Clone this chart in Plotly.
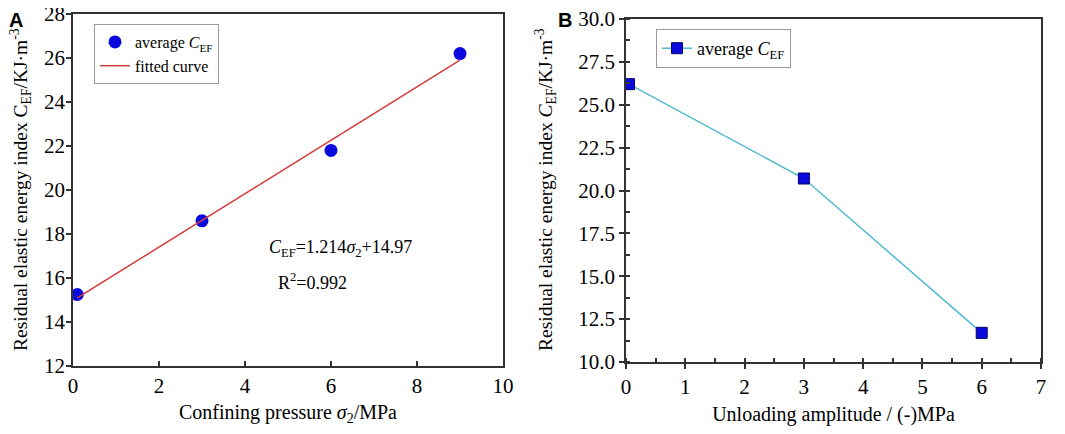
import plotly.graph_objects as go

# panel A: residual elastic energy index vs confining pressure
pressure = [0.1, 3, 6, 9]
cef_a = [15.25, 18.6, 21.8, 26.2]
fit_x = [0.1, 9]
fit_y = [15.1, 25.9]

# panel B: residual elastic energy index vs unloading amplitude
amplitude = [0.05, 3, 6]
cef_b = [26.2, 20.7, 11.7]

FONT = "Liberation Serif"
# page body keeps an 8px margin, so the figure is a little smaller than the window
PAD = 8
W, H = 1049, 418


def px_x(v):
    return (v - PAD) / W


def px_y(v):
    return 1 - (v - PAD) / H


def draw_plots():
    fig = go.Figure()

    fig.add_trace(go.Scatter(
        x=pressure, y=cef_a, mode="markers", name="average <i>C</i><sub>EF</sub>",
        marker=dict(symbol="circle", size=13, color="#0a0adf"),
        xaxis="x", yaxis="y", legend="legend"))
    fig.add_trace(go.Scatter(
        x=fit_x, y=fit_y, mode="lines", name="fitted curve",
        line=dict(color="#d43b3b", width=1.5),
        xaxis="x", yaxis="y", legend="legend"))

    fig.add_trace(go.Scatter(
        x=amplitude, y=cef_b, mode="lines+markers", name="average <i>C</i><sub>EF</sub>",
        line=dict(color="#4fb9cf", width=1.5),
        marker=dict(symbol="square", size=11, color="#0a0adf",
                    line=dict(color="#000060", width=1)),
        xaxis="x2", yaxis="y2", legend="legend2"))

    tickfont = dict(family=FONT, size=21, color="black")
    titlefont = dict(family=FONT, size=20, color="black")
    common = dict(showgrid=False, zeroline=False, showline=True, linecolor="#333",
                  linewidth=1.5, mirror=True, tickfont=tickfont, tickcolor="#333",
                  ticklen=5, tickwidth=1.5, automargin=False,
                  ticklabeloverflow="allow")

    fig.update_layout(
        width=W, height=H,
        margin=dict(l=0, r=0, t=0, b=0),
        paper_bgcolor="white", plot_bgcolor="white",
        xaxis=dict(domain=[px_x(73), px_x(503)], anchor="y", range=[0, 10], dtick=2,
                   ticks="inside",
                   title=dict(text="Confining pressure <i>σ</i><sub>2</sub>/MPa",
                              font=titlefont, standoff=13), **common),
        yaxis=dict(domain=[px_y(366), px_y(14)], anchor="x", range=[12, 28], dtick=2,
                   ticks="outside", ticklabelstandoff=-3, **common),
        xaxis2=dict(domain=[px_x(626), px_x(1041)], anchor="y2", range=[0, 7], dtick=1,
                    ticks="outside",
                    minor=dict(dtick=0.5, ticks="inside", ticklen=4, tickcolor="#333"),
                    title=dict(text="Unloading amplitude / (-)MPa",
                               font=titlefont, standoff=13), **common),
        yaxis2=dict(domain=[px_y(362), px_y(19)], anchor="x2", range=[10, 30], dtick=2.5,
                    tickformat=".1f", ticks="outside",
                    minor=dict(dtick=1.25, ticks="inside", ticklen=4, tickcolor="#333"),
                    **common),
        legend=dict(x=px_x(94), y=px_y(24), xanchor="left", yanchor="top",
                    bgcolor="white", bordercolor="#999", borderwidth=1,
                    font=dict(family=FONT, size=16, color="black"),
                    tracegroupgap=0, itemwidth=30),
        legend2=dict(x=px_x(656), y=px_y(29), xanchor="left", yanchor="top",
                     bgcolor="white", bordercolor="#999", borderwidth=1,
                     font=dict(family=FONT, size=18, color="black"), itemwidth=30),
        showlegend=True,
    )

    # y axis titles, placed by hand so they sit as close to the ticks as in the original
    ytitles = (
        (21, 190, "Residual elastic energy index C<sub>EF</sub>/KJ·m<sup>-3</sup>"),
        (546, 190, "Residual elastic energy index <i>C</i><sub>EF</sub>/KJ·m<sup>-3</sup>"),
    )
    for xp, yp, text in ytitles:
        fig.add_annotation(x=px_x(xp), y=px_y(yp), xref="paper", yref="paper",
                           xanchor="center", yanchor="middle", showarrow=False,
                           textangle=-90, text=text, borderpad=0,
                           font=dict(family=FONT, size=19.5, color="black"))

    fig.add_annotation(x=px_x(267), y=px_y(248), xref="paper", yref="paper",
                       xanchor="left", yanchor="middle", showarrow=False,
                       text="<i>C</i><sub>EF</sub>=1.214<i>σ</i><sub>2</sub>+14.97",
                       font=dict(family=FONT, size=18, color="black"))
    fig.add_annotation(x=px_x(276), y=px_y(281), xref="paper", yref="paper",
                       xanchor="left", yanchor="middle", showarrow=False,
                       text="R<sup>2</sup>=0.992",
                       font=dict(family=FONT, size=18, color="black"))

    for label, xp in (("A", 8), ("B", 557)):
        fig.add_annotation(x=px_x(xp), y=1, xref="paper", yref="paper",
                           xanchor="left", yanchor="top", showarrow=False,
                           text="<b>%s</b>" % label, borderpad=0,
                           font=dict(family="Liberation Sans", size=20, color="black"))

    fig.write_html("out.html")


def main():
    draw_plots()


if __name__ == "__main__":
    main()
